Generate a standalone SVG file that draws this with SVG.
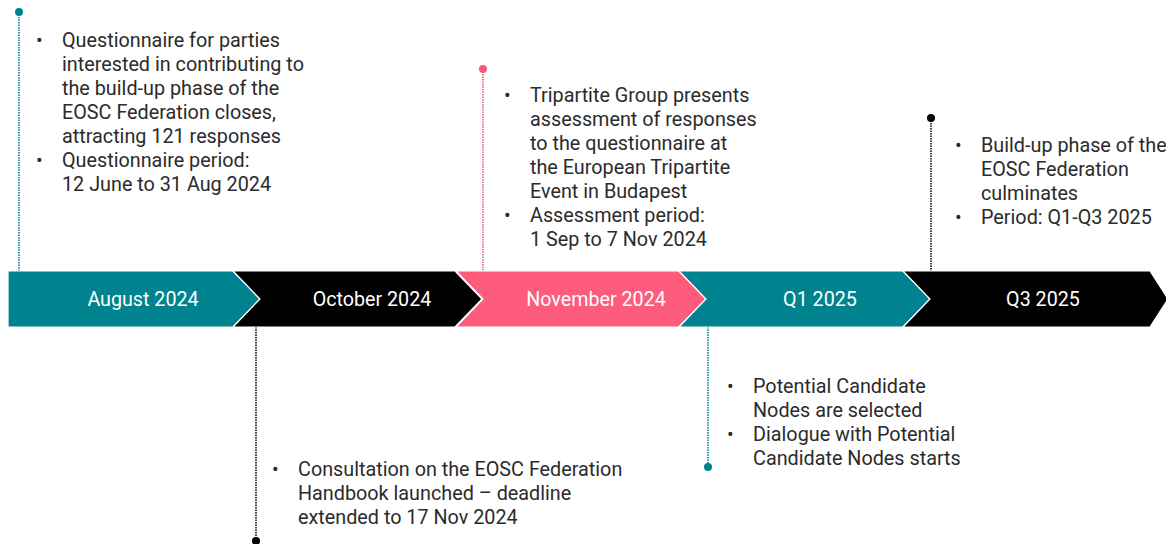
<svg xmlns="http://www.w3.org/2000/svg" width="1166" height="544" viewBox="0 0 1166 544">
<style>
.band{font-family:Roboto,"Liberation Sans",sans-serif;font-size:19.7px;fill:#fff;text-anchor:middle;dominant-baseline:central}
.t{font-family:Roboto,"Liberation Sans",sans-serif;font-size:19.8px;fill:#2b2b2b}
.seg{stroke:#fff;stroke-width:1.2}
.lead{fill:none;stroke-width:1.6;stroke-dasharray:1.5 1}
</style>
<rect width="1166" height="544" fill="#fff"/>
<g id="connectors">
<line class="lead" x1="19" y1="12" x2="19" y2="271" stroke="#00838f"/>
<circle cx="19" cy="12" r="4" fill="#00838f"/>
<line class="lead" x1="483" y1="69" x2="483" y2="271" stroke="#f45c7c"/>
<circle cx="483" cy="69" r="4" fill="#f45c7c"/>
<line class="lead" x1="931" y1="118" x2="931" y2="271" stroke="#111"/>
<circle cx="931" cy="118" r="4" fill="#000"/>
<line class="lead" x1="256" y1="327" x2="256" y2="541" stroke="#111"/>
<circle cx="256" cy="541" r="4" fill="#000"/>
<line class="lead" x1="708" y1="327" x2="708" y2="467" stroke="#00838f"/>
<circle cx="708" cy="467" r="4" fill="#00838f"/>
</g>
<g id="timeline">
<g id="seg-aug"><path class="seg" d="M8 271H233L260 299L233 327H8Z" fill="#00838f"/><text class="band" x="143" y="299">August 2024</text></g>
<g id="seg-oct"><path class="seg" d="M233 271H455L482 299L455 327H233L260 299Z" fill="#000"/><text class="band" x="372" y="299">October 2024</text></g>
<g id="seg-nov"><path class="seg" d="M456 271H679L706 299L679 327H456L483 299Z" fill="#fe5c7c"/><text class="band" x="596" y="299">November 2024</text></g>
<g id="seg-q1"><path class="seg" d="M679 271H903L930 299L903 327H679L706 299Z" fill="#00838f"/><text class="band" x="820" y="299">Q1 2025</text></g>
<g id="seg-q3"><path class="seg" d="M903 271H1150L1168 299L1150 327H903L930 299Z" fill="#000"/><text class="band" x="1043" y="299">Q3 2025</text></g>
</g>
<g id="note-aug" class="t">
<text x="36" y="47">•</text><text x="62" y="47">Questionnaire for parties</text>
<text x="62" y="71">interested in contributing to</text>
<text x="62" y="95">the build-up phase of the</text>
<text x="62" y="119">EOSC Federation closes,</text>
<text x="62" y="143">attracting 121 responses</text>
<text x="36" y="167">•</text><text x="62" y="167">Questionnaire period:</text>
<text x="62" y="191">12 June to 31 Aug 2024</text>
</g>
<g id="note-nov" class="t">
<text x="504" y="102">•</text><text x="530" y="102">Tripartite Group presents</text>
<text x="530" y="126">assessment of responses</text>
<text x="530" y="150">to the questionnaire at</text>
<text x="530" y="174">the European Tripartite</text>
<text x="530" y="198">Event in Budapest</text>
<text x="504" y="222">•</text><text x="530" y="222">Assessment period:</text>
<text x="530" y="246">1 Sep to 7 Nov 2024</text>
</g>
<g id="note-q3" class="t">
<text x="955" y="152">•</text><text x="981" y="152">Build-up phase of the</text>
<text x="981" y="176">EOSC Federation</text>
<text x="981" y="200">culminates</text>
<text x="955" y="224">•</text><text x="981" y="224">Period: Q1-Q3 2025</text>
</g>
<g id="note-oct" class="t">
<text x="272" y="476">•</text><text x="298" y="476">Consultation on the EOSC Federation</text>
<text x="298" y="500">Handbook launched – deadline</text>
<text x="298" y="524">extended to 17 Nov 2024</text>
</g>
<g id="note-q1" class="t">
<text x="727" y="393">•</text><text x="753" y="393">Potential Candidate</text>
<text x="753" y="417">Nodes are selected</text>
<text x="727" y="441">•</text><text x="753" y="441">Dialogue with Potential</text>
<text x="753" y="465">Candidate Nodes starts</text>
</g>
</svg>
